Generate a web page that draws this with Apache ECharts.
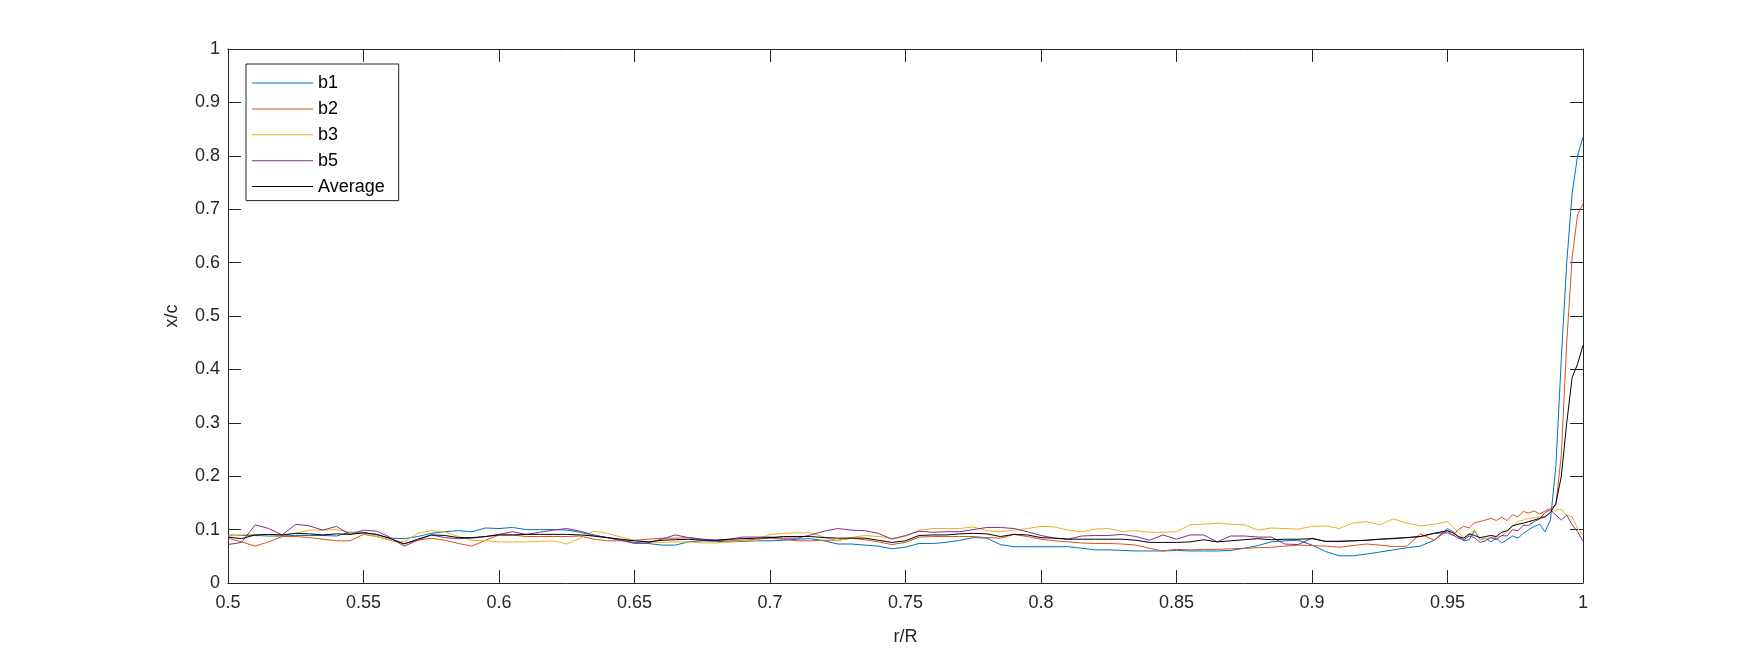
<!DOCTYPE html>
<html>
<head>
<meta charset="utf-8">
<script src="https://cdn.jsdelivr.net/npm/echarts@6/dist/echarts.min.js"></script>
<style>
html,body{margin:0;padding:0;background:#fff;}
#chart{width:1750px;height:656px;}
</style>
</head>
<body>
<div id="chart"></div>
<script>
// r/R sample positions
const xVals = [
0.500,0.505,0.510,0.515,0.520,0.525,0.530,0.535,0.540,0.545,
0.550,0.555,0.560,0.565,0.570,0.575,0.580,0.585,0.590,0.595,
0.600,0.605,0.610,0.615,0.620,0.625,0.630,0.635,0.640,0.645,
0.650,0.655,0.660,0.665,0.670,0.675,0.680,0.685,0.690,0.695,
0.700,0.705,0.710,0.715,0.720,0.725,0.730,0.735,0.740,0.745,
0.750,0.755,0.760,0.765,0.770,0.775,0.780,0.785,0.790,0.795,
0.800,0.805,0.810,0.815,0.820,0.825,0.830,0.835,0.840,0.845,
0.850,0.855,0.860,0.865,0.870,0.875,0.880,0.885,0.890,0.895,
0.900,0.905,0.910,0.915,0.920,0.925,0.930,0.935,0.940,0.945,
0.950,0.952,0.954,0.956,0.958,0.960,0.962,0.964,0.966,0.968,
0.970,0.972,0.974,0.976,0.978,0.980,0.982,0.984,0.986,0.988,
0.990,0.992,0.994,0.996,0.998,1.000
];

const b1 = [
0.090,0.089,0.089,0.088,0.088,0.089,0.089,0.089,0.088,0.095,0.095,0.090,0.084,0.083,0.087,0.093,0.096,0.098,0.096,0.103,0.102,
0.104,0.100,0.100,0.100,0.099,0.095,0.088,0.085,0.080,0.076,0.074,0.071,0.071,0.077,0.079,0.078,0.077,0.078,0.079,0.079,
0.080,0.082,0.083,0.079,0.073,0.073,0.071,0.069,0.064,0.067,0.074,0.074,0.076,0.080,0.085,0.084,0.072,0.068,0.068,0.068,
0.068,0.068,0.065,0.062,0.062,0.061,0.060,0.060,0.060,0.061,0.060,0.060,0.060,0.061,0.065,0.070,0.077,0.079,0.080,0.071,
0.059,0.051,0.051,0.054,0.058,0.062,0.066,0.069,0.080,
0.102,0.096,0.087,0.079,0.081,0.098,0.081,0.084,0.077,0.084,0.075,0.081,0.088,0.084,0.093,0.100,0.106,0.110,0.096,0.118,
0.220,0.420,0.600,0.730,0.800,0.835
];

const b2 = [
0.084,0.077,0.069,0.077,0.087,0.087,0.085,0.082,0.079,0.079,0.091,0.087,0.080,0.074,0.080,0.084,0.080,0.074,0.069,0.080,0.090,
0.090,0.087,0.087,0.087,0.087,0.088,0.082,0.079,0.079,0.080,0.082,0.084,0.084,0.085,0.082,0.080,0.079,0.080,0.082,0.084,
0.082,0.079,0.079,0.080,0.080,0.084,0.081,0.077,0.072,0.076,0.086,0.087,0.087,0.087,0.087,0.085,0.084,0.091,0.087,0.082,
0.079,0.077,0.075,0.074,0.074,0.073,0.071,0.065,0.060,0.063,0.062,0.063,0.063,0.064,0.065,0.066,0.067,0.069,0.071,0.070,
0.069,0.067,0.070,0.073,0.071,0.068,0.069,0.092,0.080,
0.098,0.088,0.100,0.106,0.103,0.113,0.115,0.118,0.121,0.117,0.123,0.117,0.128,0.124,0.134,0.131,0.135,0.129,0.135,0.140,
0.146,0.240,0.450,0.610,0.690,0.710
];

const b3 = [
0.088,0.090,0.091,0.090,0.090,0.093,0.099,0.099,0.100,0.095,0.093,0.087,0.080,0.077,0.093,0.098,0.096,0.087,0.080,0.079,0.077,
0.077,0.077,0.078,0.079,0.073,0.084,0.097,0.093,0.086,0.080,0.077,0.076,0.077,0.077,0.075,0.075,0.077,0.079,0.080,0.091,
0.093,0.094,0.094,0.086,0.079,0.085,0.089,0.087,0.084,0.087,0.099,0.102,0.102,0.102,0.105,0.098,0.096,0.099,0.102,0.106,
0.105,0.099,0.096,0.101,0.102,0.096,0.098,0.095,0.095,0.096,0.109,0.110,0.112,0.110,0.109,0.099,0.103,0.102,0.101,0.106,
0.107,0.102,0.112,0.115,0.109,0.120,0.112,0.107,0.110,
0.115,0.104,0.096,0.084,0.090,0.100,0.081,0.083,0.085,0.086,0.088,0.096,0.106,0.115,0.118,0.121,0.122,0.124,0.125,0.132,
0.137,0.138,0.127,0.124,0.102,0.090
];

const b5 = [
0.072,0.076,0.109,0.102,0.090,0.110,0.107,0.099,0.106,0.091,0.099,0.097,0.085,0.069,0.080,0.090,0.085,0.083,0.084,0.087,0.091,
0.096,0.091,0.095,0.099,0.102,0.097,0.090,0.085,0.080,0.074,0.075,0.082,0.090,0.085,0.082,0.080,0.082,0.086,0.086,0.086,
0.084,0.084,0.090,0.097,0.102,0.099,0.098,0.093,0.082,0.089,0.097,0.095,0.096,0.096,0.100,0.104,0.104,0.102,0.096,0.089,
0.084,0.082,0.088,0.089,0.089,0.091,0.087,0.080,0.090,0.082,0.090,0.090,0.077,0.088,0.088,0.086,0.086,0.073,0.072,0.084,
0.078,0.078,0.079,0.080,0.082,0.084,0.085,0.087,0.093,
0.094,0.090,0.084,0.081,0.088,0.085,0.076,0.079,0.085,0.081,0.089,0.088,0.100,0.098,0.108,0.108,0.115,0.120,0.132,0.137,
0.127,0.118,0.127,0.109,0.096,0.078
];

const average = [
0.086,0.083,0.090,0.091,0.090,0.093,0.092,0.090,0.092,0.091,0.094,0.091,0.083,0.073,0.082,0.090,0.089,0.085,0.085,0.087,0.090,
0.090,0.091,0.091,0.091,0.091,0.090,0.088,0.085,0.082,0.079,0.077,0.080,0.081,0.082,0.080,0.080,0.082,0.083,0.084,0.085,
0.087,0.087,0.087,0.085,0.084,0.084,0.084,0.080,0.076,0.079,0.089,0.090,0.090,0.092,0.093,0.092,0.087,0.091,0.090,0.085,
0.084,0.082,0.082,0.082,0.082,0.082,0.080,0.076,0.076,0.076,0.077,0.081,0.077,0.079,0.081,0.083,0.081,0.082,0.082,0.083,
0.078,0.078,0.079,0.080,0.082,0.083,0.085,0.087,0.093,
0.098,0.094,0.087,0.084,0.092,0.089,0.085,0.087,0.089,0.087,0.095,0.098,0.107,0.110,0.112,0.115,0.118,0.121,0.124,0.132,
0.149,0.200,0.300,0.385,0.410,0.445
];

const seriesNames = ['b1','b2','b3','b5','Average'];
const seriesValues = [b1, b2, b3, b5, average];
const seriesColors = ['#0072BD','#D95319','#EDB120','#7E2F8E','#000000'];

const FONT = "'Liberation Sans', Arial, Helvetica, sans-serif";
const AXC = '#262626';
const FS = 18;

const chart = echarts.init(document.getElementById('chart'), null, {renderer: 'canvas'});

function baseX(pos, show) {
  return {
    type: 'value', position: pos, min: 0.5, max: 1, interval: 0.05,
    axisLine: {show: true, onZero: false, lineStyle: {color: AXC, width: 1}},
    axisTick: {show: true, inside: true, length: 13, lineStyle: {color: AXC, width: 1}},
    axisLabel: {show: show, color: AXC, fontFamily: FONT, fontSize: FS, margin: 11},
    splitLine: {show: false}
  };
}
function baseY(pos, show) {
  return {
    type: 'value', position: pos, min: 0, max: 1, interval: 0.1,
    axisLine: {show: true, onZero: false, lineStyle: {color: AXC, width: 1}},
    axisTick: {show: true, inside: true, length: 13, lineStyle: {color: AXC, width: 1}},
    axisLabel: {show: show, color: AXC, fontFamily: FONT, fontSize: FS, margin: 8},
    splitLine: {show: false}
  };
}

const xb = baseX('bottom', true);
xb.name = 'r/R'; xb.nameLocation = 'middle'; xb.nameGap = 45;
xb.nameTextStyle = {color: AXC, fontFamily: FONT, fontSize: FS};
const xt = baseX('top', false);
const yl = baseY('left', true);
yl.name = 'x/c'; yl.nameLocation = 'middle'; yl.nameGap = 47;
yl.nameTextStyle = {color: AXC, fontFamily: FONT, fontSize: FS};
const yr = baseY('right', false);

const option = {
  backgroundColor: '#ffffff',
  animation: false,
  grid: {left: 228, right: 167, top: 49, bottom: 73, containLabel: false},
  xAxis: [xb, xt],
  yAxis: [yl, yr],
  legend: {
    orient: 'vertical', left: 246, top: 64,
    data: seriesNames,
    icon: 'rect',
    itemWidth: 61, itemHeight: 1, itemGap: 7.9,
    padding: [10, 14, 5, 6],
    borderColor: AXC, borderWidth: 1, backgroundColor: '#ffffff',
    textStyle: {color: '#000', fontFamily: FONT, fontSize: FS, lineHeight: 18}
  },
  series: seriesNames.map((n, i) => ({
    name: n, type: 'line', xAxisIndex: 0, yAxisIndex: 0,
    data: xVals.map((x, j) => [x, seriesValues[i][j]]),
    symbol: 'none', showSymbol: false,
    lineStyle: {color: seriesColors[i], width: 1},
    itemStyle: {color: seriesColors[i]},
    emphasis: {disabled: true}
  }))
};
chart.setOption(option);
</script>
</body>
</html>
